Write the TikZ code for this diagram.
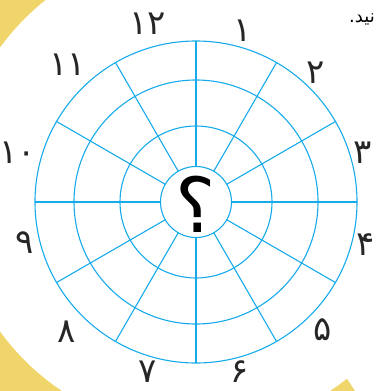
\documentclass[tikz,border=0pt]{standalone}
\usepackage{fontspec}
\usetikzlibrary{calc}
\newfontfamily\arabicfont[Script=Arabic]{DejaVu Sans}
\TeXXeTstate=1
\definecolor{ringblue}{RGB}{22,170,234}
\definecolor{bgyellow}{RGB}{240,214,106}
\tikzset{
  ringline/.style={draw=ringblue, line width=1.1pt},
  numlbl/.style={font=\arabicfont\fontsize{34}{34}\selectfont, inner sep=0pt, text=black!85},
}
\begin{document}
\begin{tikzpicture}[x=1pt,y=-1pt]
\useasboundingbox (0,0) rectangle (375,391);
% yellow background
\begin{scope}
  \clip (0,0) -- (99.5,0) -- (355,391) -- (0,391) -- cycle;
  \fill[bgyellow, even odd rule] (-5,-5) rectangle (380,396) (196,189.5) circle[radius=242];
\end{scope}
% top-right text
\node[anchor=east, inner sep=0pt, font=\arabicfont\fontsize{18}{18}\selectfont] (txt) at (375,19) {\beginR نید.\endR};
% wheel
\coordinate (c) at (196,202);
\foreach \r in {161,122,76,35.5} \draw[ringline] (c) circle[radius=\r];
\foreach \a in {0,30,...,330} \draw[ringline] ($(c)+(\a:35.5)$) -- ($(c)+(\a:161)$);
% centre
\node[font=\arabicfont\fontsize{76}{76}\selectfont, inner sep=0pt] (q) at (196,204) {؟};
% numbers
\node[numlbl] (n12) at (148,24) {۱۲};
\node[numlbl] (n1) at (243,31) {۱};
\node[numlbl] (n2) at (316,73) {۲};
\node[numlbl] (n3) at (363,153) {۳};
\node[numlbl] (n4) at (366,245) {۴};
\node[numlbl] (n5) at (323,330) {۵};
\node[numlbl] (n6) at (240,372) {۶};
\node[numlbl] (n7) at (148,372) {۷};
\node[numlbl] (n8) at (67,332) {۸};
\node[numlbl] (n9) at (25,243) {۹};
\node[numlbl] (n10) at (18,153) {۱۰};
\node[numlbl] (n11) at (68,65) {۱۱};
\end{tikzpicture}
\end{document}
